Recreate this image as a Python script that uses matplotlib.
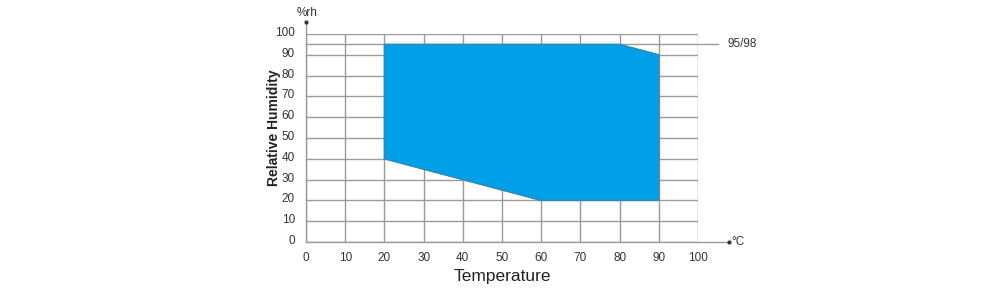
import matplotlib.pyplot as plt

plt.rcParams['font.family'] = ['Liberation Sans', 'DejaVu Sans']

# operating envelope (temperature °C, humidity %rh)
temp = [20, 80, 90, 90, 60, 20]
humid = [95, 95, 90, 20, 20, 40]

x_ticks = [0, 10, 20, 30, 40, 50, 60, 70, 80, 90, 100]
y_ticks = [0, 10, 20, 30, 40, 50, 60, 70, 80, 90, 100]
extra_line = 95
extra_label = '95/98'

grid_c = '#9a9a9a'
fill_c = '#00a0e9'

fig = plt.figure(figsize=(10, 3), dpi=100)
ax = fig.add_axes([0.306, 0.1933, 0.392, 0.6933])
ax.set_xlim(0, 100)
ax.set_ylim(0, 100)

for x in x_ticks:
    ax.plot([x, x], [0, 100], color=grid_c, lw=1, zorder=1)
for y in y_ticks:
    ax.plot([0, 100], [y, y], color=grid_c, lw=1, zorder=1)
ax.plot([0, 105], [extra_line, extra_line], color=grid_c, lw=1, zorder=1, clip_on=False)

ax.fill(temp, humid, color=fill_c, zorder=2)
ax.plot(temp + temp[:1], humid + humid[:1], color='#4a7f9a', lw=0.7, zorder=3)

# axis extensions
ax.plot([0, 108], [0, 0], color=grid_c, lw=1, clip_on=False, zorder=1)
ax.plot([0, 0], [0, 106], color=grid_c, lw=1, clip_on=False, zorder=1)
ax.plot([108], [0], 'o', color='#333333', ms=2, clip_on=False)
ax.plot([0], [106], 'o', color='#333333', ms=2, clip_on=False)
ax.text(108.5, 0, '°C', fontsize=8.5, va='center', ha='left', color='#333333')
ax.text(-2.5, 107, '%rh', fontsize=8.5, va='bottom', ha='left', color='#333333')
ax.text(107.5, extra_line, extra_label, fontsize=8.5, va='center', ha='left', color='#333333')

for x in x_ticks:
    ax.text(x, -7.5, str(x), fontsize=8.5, ha='center', va='center', color='#333333')
for y in y_ticks:
    ax.text(-2.8, y + 0.5, str(y), fontsize=8.5, ha='right', va='center', color='#333333')

ax.text(50, -16.5, 'Temperature', fontsize=12.5, ha='center', va='center', color='#222222')
ax.text(-8.2, 55, 'Relative Humidity', fontsize=10, fontweight='bold', rotation=90,
        ha='center', va='center', color='#222222')

ax.axis('off')
fig.savefig('out.png', dpi=100)
